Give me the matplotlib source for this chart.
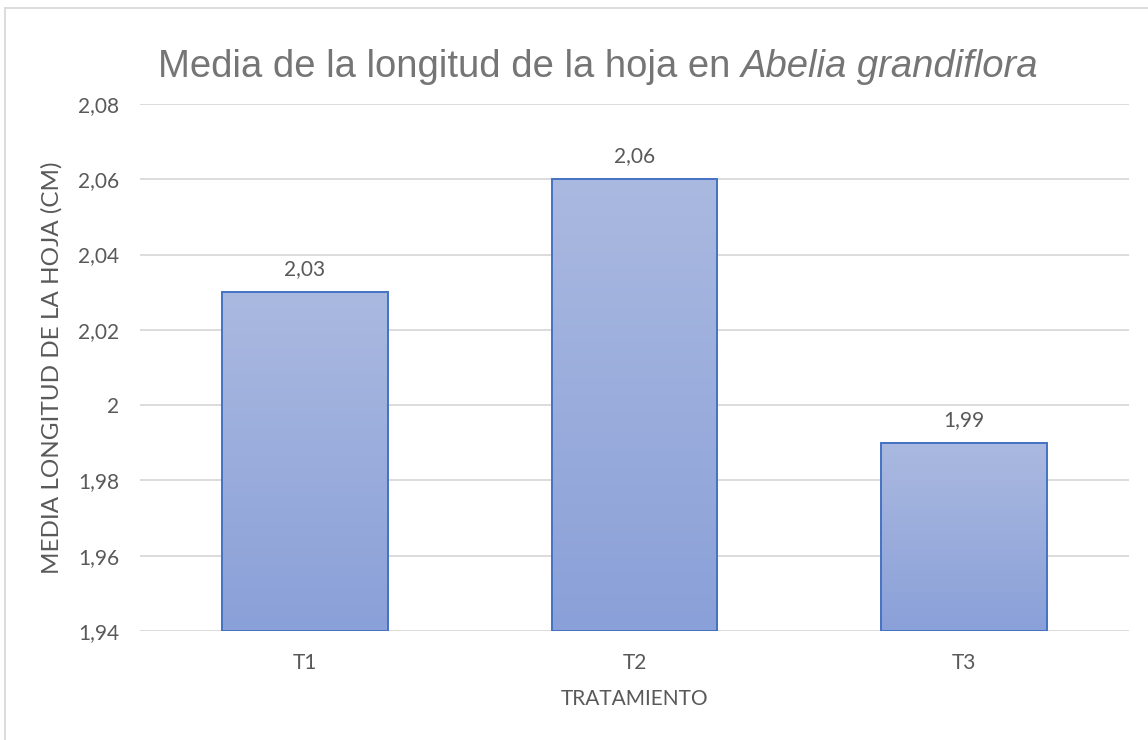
import numpy as np
import matplotlib
matplotlib.use("Agg")
import matplotlib.pyplot as plt
from matplotlib.colors import LinearSegmentedColormap
from matplotlib.lines import Line2D

# Data
tratamientos = ["T1", "T2", "T3"]
medias = [2.03, 2.06, 1.99]
y_ticks = [1.94, 1.96, 1.98, 2.00, 2.02, 2.04, 2.06, 2.08]

def coma(v):
    return f"{v:g}".replace(".", ",")

gray = "#595959"
title_gray = "#757575"
grid_col = "#D9D9D9"
edge_col = "#4472C4"
grad = LinearSegmentedColormap.from_list("barra", ["#8AA0D8", "#AAB9E0"])

W, H = 1148, 740
fig = plt.figure(figsize=(W / 100, H / 100), dpi=100)
ax = fig.add_axes([140 / W, 1 - 631 / H, 989 / W, 527 / H])

ymin, ymax = y_ticks[0], y_ticks[-1]

for y in y_ticks:
    ax.axhline(y, color=grid_col, lw=1.3, zorder=0)

width = 0.503
x = np.arange(len(tratamientos))
ax.bar(x, np.array(medias) - ymin, width, bottom=ymin,
       facecolor="none", edgecolor=edge_col, linewidth=1.4, zorder=3)

# vertical gradient fill inside each bar
g = np.linspace(0, 1, 256).reshape(-1, 1)
for xi, m in zip(x, medias):
    ax.imshow(g, cmap=grad, origin="lower", aspect="auto",
              extent=[xi - width / 2, xi + width / 2, ymin, m], zorder=2)
    ax.text(xi, m + 0.0035, coma(m), ha="center", va="bottom",
            fontsize=15, color=gray, family="Lato")

ax.set_xlim(-0.5, len(tratamientos) - 0.5)
ax.set_ylim(ymin, ymax)

ax.set_xticks(x)
ax.set_xticklabels(tratamientos, fontsize=15, color=gray, family="Lato")
ax.set_yticks(y_ticks)
ax.set_yticklabels([coma(v) for v in y_ticks], fontsize=15, color=gray, family="Lato")
ax.tick_params(axis="x", length=0, pad=16)
ax.tick_params(axis="y", length=0, pad=15)
for s in ax.spines.values():
    s.set_visible(False)

ax.set_xlabel("TRATAMIENTO", fontsize=15, color=gray, family="Lato")
ax.xaxis.set_label_coords(0.5, -(699 - 631) / 527)
ax.xaxis.label.set_va("center")
ax.set_ylabel("MEDIA LONGITUD DE LA HOJA (CM)", fontsize=17.5, color=gray,
              family="Lato", va="center")
ax.yaxis.set_label_coords((52 - 140) / 989, 0.5)

# title: regular part followed by the italic species name
ty = 1 - 77 / H
t1 = fig.text(0, ty, "Media de la longitud de la hoja en ", va="baseline",
              fontsize=27.5, color=title_gray, family="Liberation Sans")
t2 = fig.text(0, ty, "Abelia grandiflora", va="baseline", style="italic",
              fontsize=27.5, color=title_gray, family="Liberation Sans")
r = fig.canvas.get_renderer()
w1 = t1.get_window_extent(r).width
w2 = t2.get_window_extent(r).width
x0 = 598 - (w1 + w2) / 2
t1.set_x(x0 / W)
t2.set_x((x0 + w1) / W)

# chart area border
fig.add_artist(Line2D([5 / W, 5 / W], [0, 1 - 8 / H], color=grid_col, lw=1.3))
fig.add_artist(Line2D([5 / W, 1], [1 - 8 / H, 1 - 8 / H], color=grid_col, lw=1.3))

fig.savefig("out.png", dpi=100)
